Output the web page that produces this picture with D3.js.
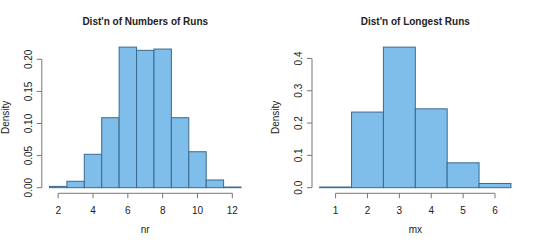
<!DOCTYPE html>
<html>
<head>
<meta charset="utf-8">
<script src="https://cdn.jsdelivr.net/npm/d3@7"></script>
<style>
  body { margin: 0; background: #fff; }
  svg text { font-family: "Liberation Sans", Arial, sans-serif; fill: #222; }
</style>
</head>
<body>
<svg id="chart" width="540" height="246"></svg>
<script>
// left panel: number of runs
const nrStarts = [1.5, 2.5, 3.5, 4.5, 5.5, 6.5, 7.5, 8.5, 9.5, 10.5, 11.5];
const nrDensity = [0.002, 0.010, 0.052, 0.109, 0.219, 0.214, 0.216, 0.109, 0.056, 0.012, 0.001];
const nrXTicks = [2, 4, 6, 8, 10, 12];
const nrYTicks = [0, 0.05, 0.10, 0.15, 0.20];

// right panel: longest run
const mxStarts = [0.5, 1.5, 2.5, 3.5, 4.5, 5.5];
const mxDensity = [0.002, 0.234, 0.435, 0.244, 0.077, 0.013];
const mxXTicks = [1, 2, 3, 4, 5, 6];
const mxYTicks = [0, 0.1, 0.2, 0.3, 0.4];

const svg = d3.select('#chart');
const fill = '#7fbdeb';
const stroke = '#3b6a8c';
const axisColor = '#777';

// R style 4% range extension
function ext(lo, hi) {
  const pad = (hi - lo) * 0.04;
  return [lo - pad, hi + pad];
}

function drawHist(opts) {
  const { left, right, top, bottom, starts, dens, xTicks, yTicks, yFmt, title, xLabel } = opts;
  const x = d3.scaleLinear()
    .domain(ext(starts[0], starts[starts.length - 1] + 1))
    .range([left, right]);
  const y = d3.scaleLinear()
    .domain(ext(0, d3.max(dens)))
    .range([bottom, top]);
  const g = svg.append('g');

  g.selectAll('rect')
    .data(starts)
    .enter()
    .append('rect')
    .attr('x', (d) => x(d))
    .attr('y', (d, i) => y(dens[i]))
    .attr('width', (d) => x(d + 1) - x(d))
    .attr('height', (d, i) => y(0) - y(dens[i]))
    .style('fill', fill)
    .style('stroke', stroke)
    .style('stroke-width', 1);

  // x axis
  const xa = g.append('g').attr('transform', `translate(0,${bottom})`);
  xa.append('line')
    .attr('x1', x(xTicks[0])).attr('x2', x(xTicks[xTicks.length - 1]))
    .style('stroke', axisColor);
  xa.selectAll('line.tick').data(xTicks).enter().append('line')
    .attr('class', 'tick')
    .attr('x1', (d) => x(d)).attr('x2', (d) => x(d))
    .attr('y1', 0).attr('y2', 5)
    .style('stroke', axisColor);
  xa.selectAll('text').data(xTicks).enter().append('text')
    .attr('x', (d) => x(d)).attr('y', 21)
    .attr('text-anchor', 'middle')
    .style('font-size', '10px')
    .text((d) => d);

  // y axis
  const ya = g.append('g').attr('transform', `translate(${left},0)`);
  ya.append('line')
    .attr('y1', y(yTicks[0])).attr('y2', y(yTicks[yTicks.length - 1]))
    .style('stroke', axisColor);
  ya.selectAll('line.tick').data(yTicks).enter().append('line')
    .attr('class', 'tick')
    .attr('y1', (d) => y(d)).attr('y2', (d) => y(d))
    .attr('x1', 0).attr('x2', -5)
    .style('stroke', axisColor);
  ya.selectAll('text').data(yTicks).enter().append('text')
    .attr('transform', (d) => `translate(-10,${y(d)}) rotate(-90)`)
    .attr('text-anchor', 'middle')
    .style('font-size', '10px')
    .text(yFmt);

  const cx = (left + right) / 2;
  const cy = (top + bottom) / 2;
  g.append('text')
    .attr('x', cx).attr('y', 25)
    .attr('text-anchor', 'middle')
    .style('font-size', '10px')
    .style('font-weight', 'bold')
    .text(title);
  g.append('text')
    .attr('x', cx).attr('y', 233)
    .attr('text-anchor', 'middle')
    .style('font-size', '10px')
    .text(xLabel);
  g.append('text')
    .attr('transform', `translate(${left - 33},${cy}) rotate(-90)`)
    .attr('text-anchor', 'middle')
    .style('font-size', '10px')
    .text('Density');
}

drawHist({
  left: 41.8, right: 248.7, top: 41.5, bottom: 193.3,
  starts: nrStarts, dens: nrDensity,
  xTicks: nrXTicks, yTicks: nrYTicks, yFmt: d3.format('.2f'),
  title: "Dist'n of Numbers of Runs", xLabel: 'nr',
});

drawHist({
  left: 312, right: 518.6, top: 41.5, bottom: 193.3,
  starts: mxStarts, dens: mxDensity,
  xTicks: mxXTicks, yTicks: mxYTicks, yFmt: d3.format('.1f'),
  title: "Dist'n of Longest Runs", xLabel: 'mx',
});
</script>
</body>
</html>
